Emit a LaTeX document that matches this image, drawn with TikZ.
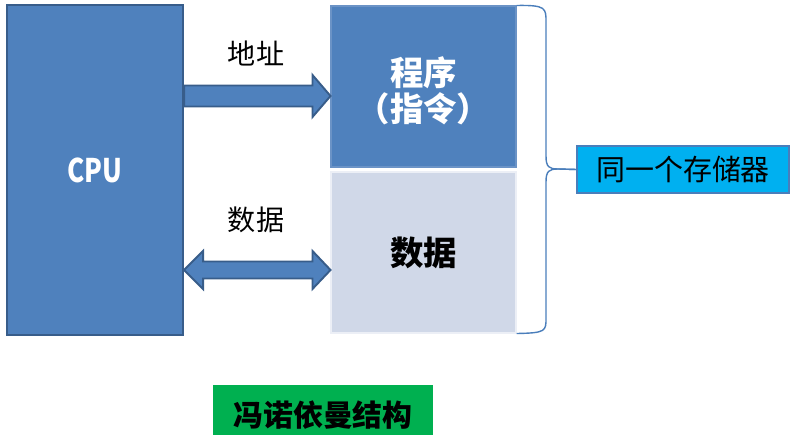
\documentclass[tikz,border=0pt]{standalone}
\usepackage{fontspec}
\setmainfont{Noto Sans CJK SC}
\usetikzlibrary{calc,positioning}
\definecolor{cpublue}{HTML}{4F81BD}
\definecolor{cpuedge}{HTML}{385D8A}
\definecolor{progedge}{HTML}{6B93C6}
\definecolor{datafill}{HTML}{D0D8E8}
\definecolor{storefill}{HTML}{00B0F0}
\definecolor{storeedge}{HTML}{4A7EBB}
\definecolor{vngreen}{HTML}{00B050}
\tikzset{
  % fat block arrow, tip at the target
  fwd bus/.style={to path={
      ($(\tikztostart)+(0,-10.5)$) -- ($(\tikztotarget)+(-18,-10.5)$)
      -- ($(\tikztotarget)+(-18,-21)$) -- (\tikztotarget)
      -- ($(\tikztotarget)+(-18,21)$) -- ($(\tikztotarget)+(-18,10.5)$)
      -- ($(\tikztostart)+(0,10.5)$) -- cycle}},
  % fat block arrow, tips at both ends
  both bus/.style={to path={
      (\tikztostart) -- ($(\tikztostart)+(19,-19)$) -- ($(\tikztostart)+(19,-8.5)$)
      -- ($(\tikztotarget)+(-18,-8.5)$) -- ($(\tikztotarget)+(-18,-19)$)
      -- (\tikztotarget) -- ($(\tikztotarget)+(-18,19)$) -- ($(\tikztotarget)+(-18,8.5)$)
      -- ($(\tikztostart)+(19,8.5)$) -- ($(\tikztostart)+(19,19)$) -- cycle}},
}
\begin{document}
\begin{tikzpicture}[x=0.02cm,y=-0.02cm,
  box/.style={draw, rectangle, inner sep=0pt},
  bus/.style={fill=cpublue, draw=cpuedge, line width=1.1pt, line join=miter},
  lbl/.style={font=\fontsize{16}{19}\selectfont}]
    \useasboundingbox (0,0) rectangle (790,435);
    \clip (0,0) rectangle (790,435);
    % cpu and memory blocks
    \node[box, fill=cpublue, draw=cpuedge, line width=1.2pt, minimum width=3.52cm, minimum height=6.6cm,
      text=white, font=\bfseries\fontsize{18.5}{20}\selectfont] (cpu) at (95,170) {\scalebox{0.8}[1]{CPU}};
    \node[box, fill=cpublue, draw=progedge, line width=0.6pt, minimum width=3.7cm, minimum height=3.22cm,
      text=white, align=center, font=\bfseries\fontsize{19}{20.5}\selectfont] (prog) at (423.5,86.5) {\rule{0pt}{21pt}程序\\（指令）};
    \node[box, fill=datafill, draw=white!60!datafill, line width=0.6pt, minimum width=3.7cm, minimum height=3.22cm,
      font=\bfseries\fontsize{19}{20.5}\selectfont] (data) at (423.5,252.5) {数据};
    \node[box, fill=storefill, draw=storeedge, line width=0.8pt, minimum width=4.24cm, minimum height=0.94cm,
      font=\fontsize{16.5}{19}\selectfont] (store) at (683,169.5) {同一个存储器};
    \node[box, fill=vngreen, draw=none, minimum width=4.4cm, minimum height=1.2cm,
      font=\bfseries\fontsize{17}{19}\selectfont] (vn) at (323,415) {冯诺依曼结构};
    % buses
    \coordinate (addr y) at (0,96);
    \coordinate (data y) at (0,270);
    \draw[bus] (cpu.east |- addr y) to[fwd bus] (prog.west |- addr y);
    \draw[bus] (cpu.east |- data y) to[both bus] (data.west |- data y);
    \node[lbl] (addr) at (256,53) {地址};
    \node[lbl] (dlbl) at (256,220) {数据};
    % brace
    \draw[storeedge, line width=0.8pt] (prog.north east) .. controls (546,5) and (546,8) .. (546,22)
      -- (546,156) .. controls (546,167) and (549,169) .. (558,169) -- (store.west);
    \draw[storeedge, line width=0.8pt] (store.west) -- (558,169) .. controls (549,169) and (546,171) .. (546,182)
      -- (546,318) .. controls (546,331) and (546,333) .. (data.south east);
\end{tikzpicture}
\end{document}
